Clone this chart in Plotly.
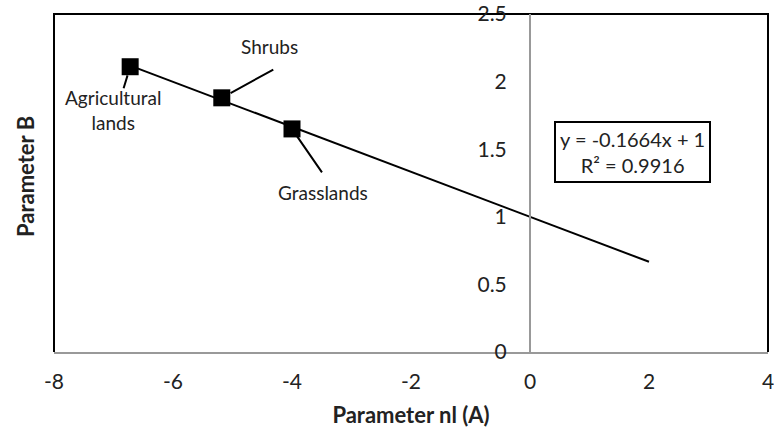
import plotly.graph_objects as go

# Data
land_types = ["Agricultural<br>lands", "Shrubs", "Grasslands"]
param_a = [-6.72, -5.18, -4.0]
param_b = [2.11, 1.88, 1.65]

slope = -0.1664
intercept = 1.0
r_squared = 0.9916
trend_x_end = 2.0

x_ticks = [-8, -6, -4, -2, 0, 2, 4]
x_tick_labels = ["-8", "-6", "-4", "-2", "0", "2", "4"]
y_ticks = [0, 0.5, 1, 1.5, 2, 2.5]
y_tick_labels = ["0", "0.5", "1", "1.5", "2", "2.5"]

FONT = "Lato, 'Noto Sans', sans-serif"

trend_x = [min(param_a), trend_x_end]
trend_y = [slope * v + intercept for v in trend_x]

fig = go.Figure()
fig.add_trace(go.Scatter(x=trend_x, y=trend_y, mode="lines",
                         line=dict(color="black", width=2), showlegend=False, hoverinfo="skip"))
fig.add_trace(go.Scatter(x=param_a, y=param_b, mode="markers",
                         marker=dict(symbol="square", size=17, color="black"),
                         showlegend=False))

# leader-line offsets (pixels) and label offsets
leader = [(-7, 23, 9), (53, -29, 10), (31, 45, 9)]
label_shift = [(-17, -43), (48, 51), (31, -64)]
for i, name in enumerate(land_types):
    ax, ay, so = leader[i]
    fig.add_annotation(x=param_a[i], y=param_b[i], text="", showarrow=True,
                       arrowhead=0, arrowwidth=2, arrowcolor="black",
                       ax=ax, ay=ay, standoff=so)
    xs, ys = label_shift[i]
    fig.add_annotation(x=param_a[i], y=param_b[i], text=name, showarrow=False,
                       xshift=xs, yshift=ys, font=dict(size=19, color="#222", family=FONT))

eq_text = f"y = {slope}x + {intercept:g}<br>R² = {r_squared}"
fig.add_annotation(x=1.73, y=1.48, text=eq_text, showarrow=False,
                   bordercolor="black", borderwidth=2, borderpad=4, bgcolor="white",
                   font=dict(size=20, color="#222", family=FONT))

fig.add_annotation(xref="paper", yref="paper", x=0, y=0.5, xanchor="center", yanchor="middle",
                   text="<b>Parameter B</b>", textangle=-90, showarrow=False,
                   xshift=-29, yshift=6, font=dict(size=22, color="#222", family=FONT))

# frame
fig.add_shape(type="path", xref="paper", yref="paper", path="M 0 0 L 0 1 L 1 1 L 1 0",
              line=dict(color="black", width=2), layer="below")

fig.update_layout(
    width=774, height=428,
    margin=dict(l=54, r=6, t=14, b=76),
    plot_bgcolor="white", paper_bgcolor="white",
    font=dict(family=FONT, color="#222", size=16),
    xaxis=dict(range=[-8, 4], tickvals=x_ticks, ticktext=x_tick_labels, showgrid=False, zeroline=False,
               showline=True, linecolor="#999", linewidth=2, automargin=False,
               ticks="", ticklabelstandoff=10, tickfont=dict(size=21), ticklabeloverflow="allow",
               title=dict(text="<b>Parameter nl (A)</b>", font=dict(size=22), standoff=17)),
    yaxis=dict(range=[0, 2.5], tickvals=y_ticks, ticktext=y_tick_labels, showgrid=False, zeroline=False,
               anchor="free", position=8 / 12, showline=True, linecolor="#999", linewidth=2,
               automargin=False, ticks="", ticklabelstandoff=18, tickfont=dict(size=21),
               ticklabeloverflow="allow"),
)

fig.write_html("out.html", config={"displayModeBar": False},
               post_script="document.body.style.margin='0px';")
